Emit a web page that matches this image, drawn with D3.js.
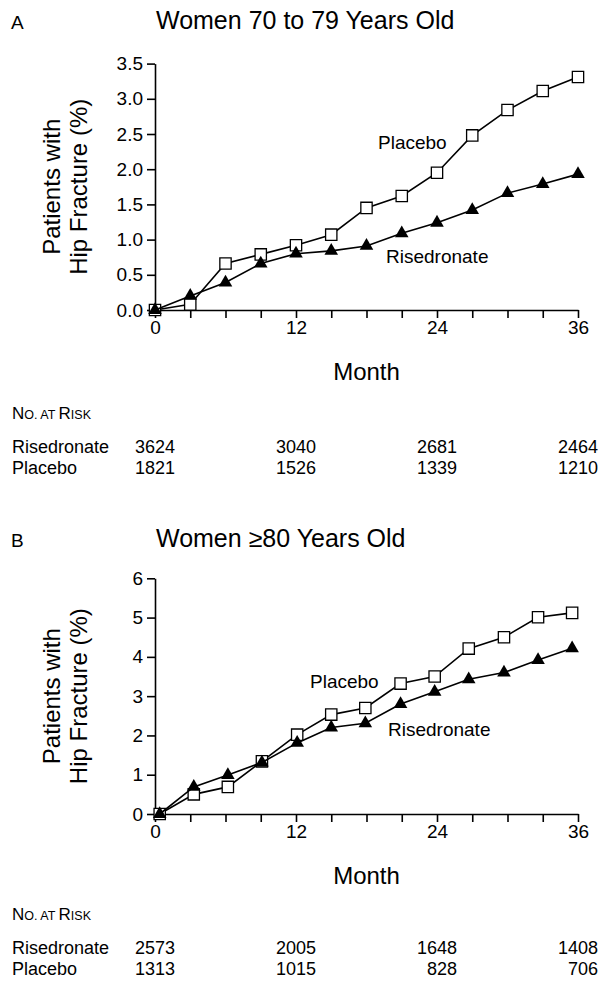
<!DOCTYPE html>
<html><head><meta charset="utf-8">
<script src="https://cdn.jsdelivr.net/npm/d3@7"></script>
<style>
body{margin:0;background:#fff}
text{font-family:"Liberation Sans",Arial,Helvetica,sans-serif;fill:#000}
</style>
</head><body>
<svg id="chart" width="600" height="982"></svg>
<script>
// ---- data ----
const monthsA = [0,3,6,9,12,15,18,21,24,27,30,33,36];
const placeboA = [0,0.08,0.66,0.79,0.92,1.07,1.45,1.62,1.95,2.48,2.84,3.11,3.31];
const risedronateA = [0,0.20,0.39,0.66,0.80,0.84,0.91,1.09,1.24,1.42,1.66,1.79,1.93];

const monthsB = [0.4,3.3,6.2,9.1,12.1,15.0,17.9,20.9,23.8,26.7,29.7,32.6,35.5];
const placeboB = [0,0.50,0.69,1.34,2.02,2.53,2.70,3.32,3.50,4.21,4.50,5.01,5.12];
const risedronateB = [0,0.69,0.99,1.31,1.81,2.20,2.31,2.80,3.11,3.43,3.60,3.92,4.22];

const xTicks = [0,3,6,9,12,15,18,21,24,27,30,33,36];
const xTickLabels = [0,12,24,36];
const yTicksA = [0,0.5,1.0,1.5,2.0,2.5,3.0,3.5];
const yTicksB = [0,1,2,3,4,5,6];

const riskMonths = [0,12,24,36];
const riskRisedronateA = [3624,3040,2681,2464];
const riskPlaceboA = [1821,1526,1339,1210];
const riskRisedronateB = [2573,2005,1648,1408];
const riskPlaceboB = [1313,1015,828,706];

const titles = ["Women 70 to 79 Years Old", "Women \u226580 Years Old"];
const panelLetters = ["A","B"];
const seriesNames = ["Placebo","Risedronate"];

// ---- drawing ----
const svg = d3.select("#chart");
const FONT = '"Liberation Sans",Arial,sans-serif';

function panel(cfg){
  const g = svg.append("g");
  const x = d3.scaleLinear().domain([0,36]).range([155,578]);
  const y = d3.scaleLinear().domain([0, cfg.yMax]).range([cfg.y0, cfg.y1]);

  g.append("text").attr("x",11).attr("y",cfg.titleY).attr("font-size",19).text(cfg.letter);
  g.append("text").attr("x",156).attr("y",cfg.titleY).attr("font-size",25).text(cfg.title);

  // axes
  const xa = g.append("g").attr("transform",`translate(0,${cfg.y0})`)
    .call(d3.axisBottom(x).tickValues(xTicks).tickSize(8).tickSizeOuter(0).tickPadding(3)
      .tickFormat(d => xTickLabels.includes(d) ? d : ""));
  const ya = g.append("g").attr("transform",`translate(155,0)`)
    .call(d3.axisLeft(y).tickValues(cfg.yTicks).tickSize(8).tickSizeOuter(0).tickPadding(4)
      .tickFormat(cfg.fmt));
  [xa,ya].forEach(a=>{
    a.select(".domain").attr("stroke","#000").attr("stroke-width",1.6);
    a.selectAll(".tick line").attr("stroke","#000").attr("stroke-width",1.6);
    a.selectAll(".tick text").attr("font-size",19).attr("fill","#000").style("font-family",FONT);
  });

  // axis titles
  const yc = (cfg.y0+cfg.y1)/2;
  g.append("text").attr("transform",`translate(60,${yc}) rotate(-90)`).attr("text-anchor","middle")
    .attr("font-size",24).text("Patients with");
  g.append("text").attr("transform",`translate(87,${yc}) rotate(-90)`).attr("text-anchor","middle")
    .attr("font-size",24).text("Hip Fracture (%)");
  g.append("text").attr("x",366.5).attr("y",cfg.y0+70).attr("text-anchor","middle")
    .attr("font-size",24).text("Month");

  // series
  const line = d3.line().x(d=>x(d[0])).y(d=>y(d[1]));
  const pla = cfg.months.map((m,i)=>[m,cfg.placebo[i]]);
  const ris = cfg.months.map((m,i)=>[m,cfg.risedronate[i]]);

  g.append("path").datum(pla).attr("d",line).attr("fill","none").attr("stroke","#000").attr("stroke-width",1.6);
  g.selectAll(".sq").data(pla).join("path")
    .attr("transform",d=>`translate(${x(d[0])},${y(d[1])})`)
    .attr("d",d3.symbol(d3.symbolSquare,128))
    .attr("fill","#fff").attr("stroke","#000").attr("stroke-width",1.3);

  g.append("path").datum(ris).attr("d",line).attr("fill","none").attr("stroke","#000").attr("stroke-width",1.6);
  g.selectAll(".tr").data(ris).join("path")
    .attr("transform",d=>`translate(${x(d[0])},${y(d[1])})`)
    .attr("d",d3.symbol(d3.symbolTriangle,80))
    .attr("fill","#000");

  // series labels
  g.append("text").attr("x",cfg.plaLabel[0]).attr("y",cfg.plaLabel[1]).attr("font-size",19).text(seriesNames[0]);
  g.append("text").attr("x",cfg.risLabel[0]).attr("y",cfg.risLabel[1]).attr("font-size",19).text(seriesNames[1]);

  // number at risk
  const nt = g.append("text").attr("x",12).attr("y",cfg.riskY).attr("font-size",17);
  nt.append("tspan").text("N");
  nt.append("tspan").attr("font-size",12.5).text("O. AT ");
  nt.append("tspan").text("R");
  nt.append("tspan").attr("font-size",12.5).text("ISK");

  const rows = [[seriesNames[1], cfg.riskR],[seriesNames[0], cfg.riskP]];
  rows.forEach((r,ri)=>{
    const yy = cfg.riskY + 34 + ri*21;
    g.append("text").attr("x",12).attr("y",yy).attr("font-size",18).text(r[0]);
    g.selectAll(null).data(r[1]).join("text")
      .attr("x",(d,i)=>x(riskMonths[i])+20).attr("y",yy).attr("text-anchor","end")
      .attr("font-size",18).text(d=>d);
  });
}

panel({letter:panelLetters[0], title:titles[0], titleY:29, yMax:3.5, y0:310, y1:63.6,
  yTicks:yTicksA, fmt:d3.format(".1f"), months:monthsA, placebo:placeboA, risedronate:risedronateA,
  plaLabel:[378,149], risLabel:[386,263], riskY:419, riskR:riskRisedronateA, riskP:riskPlaceboA});

panel({letter:panelLetters[1], title:titles[1], titleY:547, yMax:6, y0:814, y1:578.3,
  yTicks:yTicksB, fmt:d3.format("d"), months:monthsB, placebo:placeboB, risedronate:risedronateB,
  plaLabel:[310,688], risLabel:[388,736], riskY:920, riskR:riskRisedronateB, riskP:riskPlaceboB});
</script>
</body></html>
